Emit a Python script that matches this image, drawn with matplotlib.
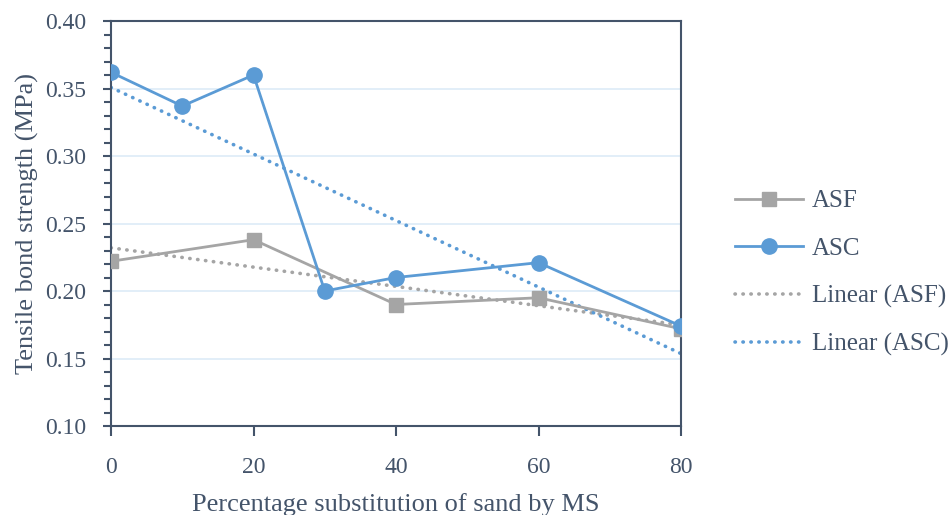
import numpy as np
import matplotlib
matplotlib.use("Agg")
import matplotlib.pyplot as plt
from matplotlib.ticker import MultipleLocator

asf_x = [0, 20, 40, 60, 80]
asf_y = [0.222, 0.238, 0.190, 0.195, 0.172]
asc_x = [0, 10, 20, 30, 40, 60, 80]
asc_y = [0.362, 0.337, 0.360, 0.200, 0.210, 0.221, 0.174]
x_ticks = [0, 20, 40, 60, 80]
y_ticks = [0.10, 0.15, 0.20, 0.25, 0.30, 0.35, 0.40]

TXT = "#44546A"
GRAY = "#A5A5A5"
BLUE = "#5B9BD5"
plt.rcParams['font.family'] = ['Liberation Serif', 'DejaVu Serif']
FS_TICK = 17
FS_LAB = 19
FS_LEG = 18

fig = plt.figure(figsize=(9.52, 5.15), dpi=100)
ax = fig.add_axes([111/952, 1-426/515, (681-111)/952, (426-21)/515])

ax.plot(asf_x, asf_y, color=GRAY, lw=2.0, marker='s', ms=10.5, label='ASF', zorder=3)
ax.plot(asc_x, asc_y, color=BLUE, lw=2.0, marker='o', ms=11, label='ASC', zorder=4)

xf = np.array([0, 80])
p1 = np.polyfit(asf_x, asf_y, 1)
p2 = np.polyfit(asc_x, asc_y, 1)
ax.plot(xf, np.polyval(p1, xf), color=GRAY, lw=2.6, ls=(0, (0.1, 2.1)),
        dash_capstyle='round', label='Linear (ASF)', zorder=2)
ax.plot(xf, np.polyval(p2, xf), color=BLUE, lw=2.6, ls=(0, (0.1, 2.1)),
        dash_capstyle='round', label='Linear (ASC)', zorder=2)

ax.set_xlim(0, 80)
ax.set_ylim(0.10, 0.40)
ax.set_xticks(x_ticks)
ax.set_yticks(y_ticks)
ax.set_yticklabels([f"{v:.2f}" for v in y_ticks])
ax.yaxis.set_minor_locator(MultipleLocator(0.01))
for v in y_ticks[1:-1]:
    ax.axhline(v, color="#DDEBF7", lw=1.2, zorder=0)

for s in ax.spines.values():
    s.set_color(TXT)
    s.set_linewidth(1.5)
ax.tick_params(axis='both', colors=TXT, labelsize=FS_TICK, direction='out', width=1.5)
ax.tick_params(axis='y', which='major', length=6, pad=12)
ax.tick_params(axis='y', which='minor', length=5, width=1.5, colors=TXT)
ax.tick_params(axis='x', which='major', length=7, pad=15)

ax.set_xlabel("Percentage substitution of sand by MS", fontsize=FS_LAB, color=TXT, labelpad=11)
ax.set_ylabel("Tensile bond strength (MPa)", fontsize=FS_LAB, color=TXT, labelpad=4)

leg = fig.legend(loc='center left', bbox_to_anchor=((735 - 10) / 952, 0.47), frameon=False,
                 borderaxespad=0, borderpad=0.4,
                 fontsize=FS_LEG, handlelength=2.7, handletextpad=0.36, labelspacing=1.0)
for t in leg.get_texts():
    t.set_color(TXT)

fig.savefig("out.png", dpi=100)
